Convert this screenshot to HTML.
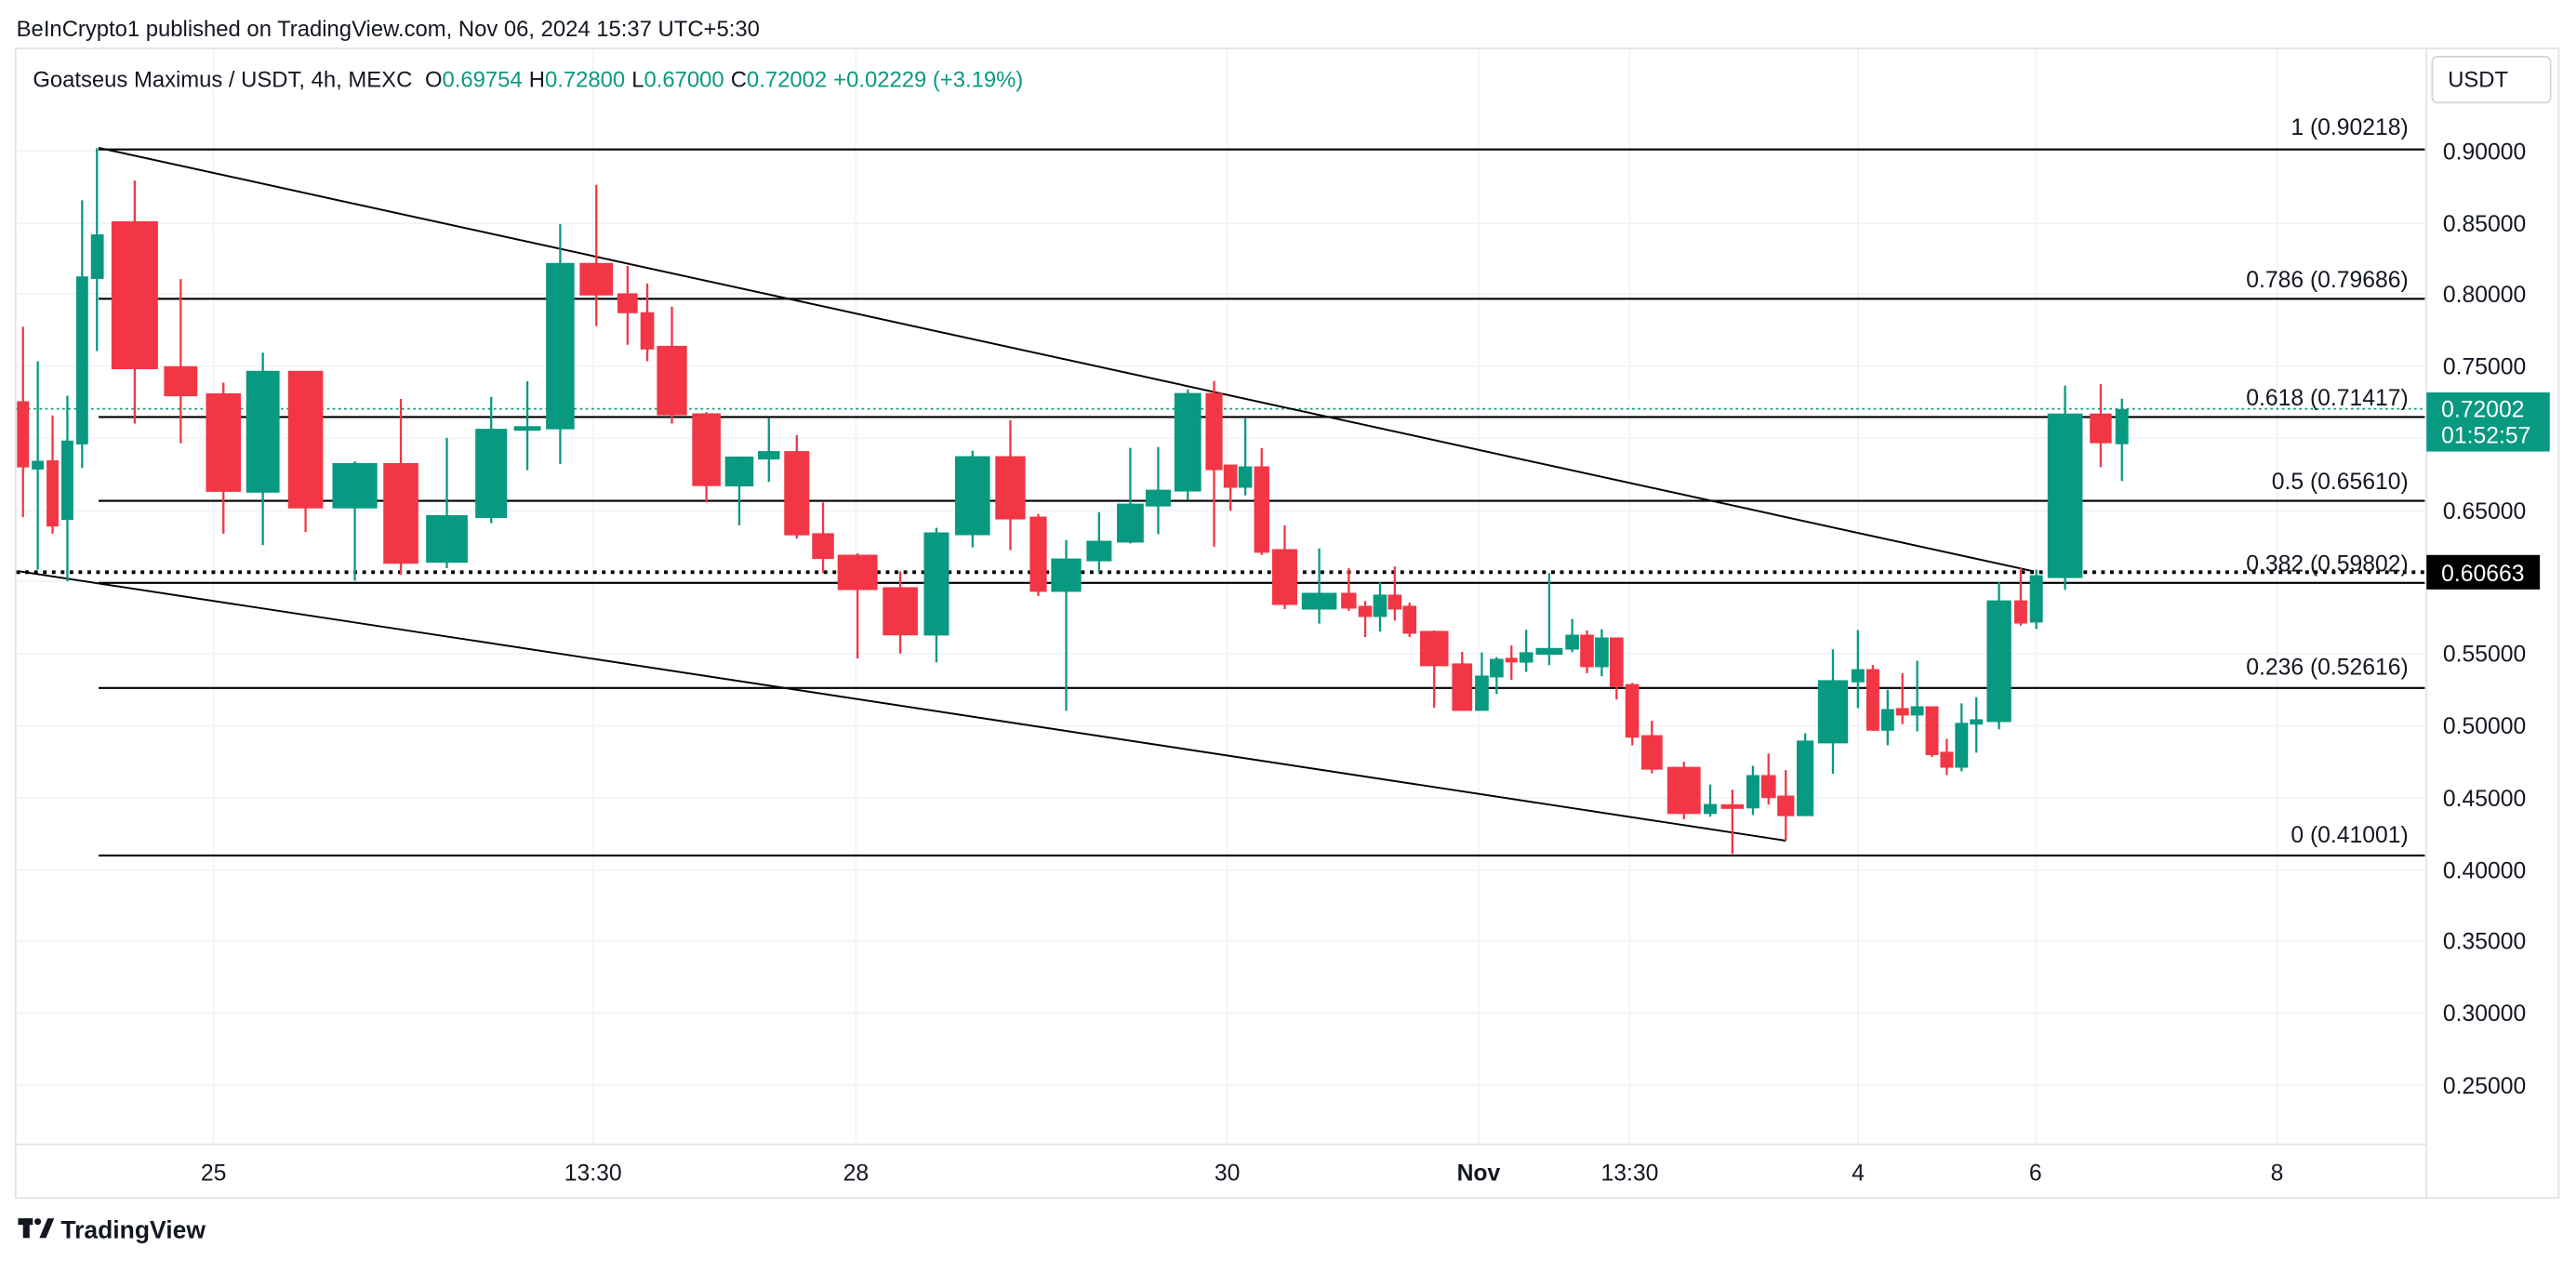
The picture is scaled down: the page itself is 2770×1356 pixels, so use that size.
<!DOCTYPE html>
<html><head><meta charset="utf-8"><style>
html,body{margin:0;padding:0;background:#fff;}
svg{display:block;}
text{font-family:"Liberation Sans",sans-serif;}
</style></head><body>
<svg width="2770" height="1356" viewBox="0 0 1568 768" preserveAspectRatio="none" xmlns="http://www.w3.org/2000/svg">
<rect width="1568" height="768" fill="#fff"/>
<rect x="9.5" y="29.5" width="1548" height="700" fill="none" stroke="#e0e3eb" stroke-width="1"/>
<g stroke="#f0f3fa" stroke-width="1">
<line x1="10" x2="1476" y1="92" y2="92"/><line x1="10" x2="1476" y1="136" y2="136"/><line x1="10" x2="1476" y1="179" y2="179"/><line x1="10" x2="1476" y1="223" y2="223"/><line x1="10" x2="1476" y1="267" y2="267"/><line x1="10" x2="1476" y1="311" y2="311"/><line x1="10" x2="1476" y1="354" y2="354"/><line x1="10" x2="1476" y1="398" y2="398"/><line x1="10" x2="1476" y1="442" y2="442"/><line x1="10" x2="1476" y1="486" y2="486"/><line x1="10" x2="1476" y1="530" y2="530"/><line x1="10" x2="1476" y1="573" y2="573"/><line x1="10" x2="1476" y1="617" y2="617"/><line x1="10" x2="1476" y1="661" y2="661"/>
<line x1="130" x2="130" y1="30" y2="697"/><line x1="361" x2="361" y1="30" y2="697"/><line x1="521" x2="521" y1="30" y2="697"/><line x1="747" x2="747" y1="30" y2="697"/><line x1="900" x2="900" y1="30" y2="697"/><line x1="992" x2="992" y1="30" y2="697"/><line x1="1131" x2="1131" y1="30" y2="697"/><line x1="1239" x2="1239" y1="30" y2="697"/><line x1="1386" x2="1386" y1="30" y2="697"/>
</g>
<line x1="1477" x2="1477" y1="30" y2="730" stroke="#e0e3eb"/>
<line x1="10" x2="1477" y1="697" y2="697" stroke="#e0e3eb"/>
<!-- current price dotted -->
<line x1="10" x2="1476" y1="249" y2="249" stroke="#089981" stroke-width="1" stroke-dasharray="1.5,2"/>
<!-- fib lines -->
<g stroke="#000" stroke-width="1.2">
<line x1="60" x2="1476" y1="91" y2="91"/><line x1="60" x2="1476" y1="182" y2="182"/><line x1="60" x2="1476" y1="254" y2="254"/><line x1="60" x2="1476" y1="305" y2="305"/><line x1="60" x2="1476" y1="355" y2="355"/><line x1="60" x2="1476" y1="419" y2="419"/><line x1="60" x2="1476" y1="521" y2="521"/>
<line x1="60" y1="90" x2="1238" y2="348" stroke-width="1.1"/>
<line x1="12" y1="348" x2="1087" y2="512" stroke-width="1.1"/>
</g>
<line x1="10" x2="1476" y1="348.5" y2="348.5" stroke="#000" stroke-width="2.2" stroke-dasharray="2.2,3.2"/>
<g id="c">
<!-- candles: wick then body -->
</g>
<g stroke-width="1.3">
<g stroke="#F23645" fill="#F23645">
<line x1="14" x2="14" y1="199" y2="315"/><rect x="11" y="245" width="6" height="39"/>
<line x1="32" x2="32" y1="253" y2="325"/><rect x="29" y="281" width="6" height="39"/>
<line x1="82" x2="82" y1="110" y2="258"/><rect x="68.5" y="135.4" width="27" height="88.8"/>
<line x1="110" x2="110" y1="170" y2="270"/><rect x="100.5" y="223.7" width="19" height="17"/>
<line x1="136" x2="136" y1="233" y2="325"/><rect x="126" y="240.2" width="20" height="58.7"/>
<line x1="186" x2="186" y1="226" y2="324"/><rect x="176" y="226.5" width="20" height="82.5"/>
<line x1="244" x2="244" y1="243" y2="350"/><rect x="234" y="282.7" width="20" height="60"/>
<line x1="363" x2="363" y1="112.6" y2="198.6"/><rect x="353.5" y="160.8" width="19" height="18.5"/>
<line x1="382" x2="382" y1="162" y2="210"/><rect x="376.5" y="179.3" width="11" height="10.8"/>
<line x1="394" x2="394" y1="172.7" y2="220"/><rect x="390.5" y="190.8" width="7" height="21.4"/>
<line x1="409" x2="409" y1="186.8" y2="258"/><rect x="400.5" y="211.3" width="17" height="41"/>
<line x1="430" x2="430" y1="251" y2="306"/><rect x="422" y="252.4" width="16" height="43"/>
<line x1="485" x2="485" y1="265" y2="328"/><rect x="478" y="275.4" width="14" height="50"/>
<line x1="501" x2="501" y1="306" y2="349"/><rect x="495" y="325.4" width="12" height="14.4"/>
<line x1="522" x2="522" y1="337" y2="401"/><rect x="510.5" y="338.5" width="23" height="20.2"/>
<line x1="548" x2="548" y1="348" y2="398"/><rect x="538" y="358.3" width="20" height="28"/>
<line x1="615" x2="615" y1="256" y2="335"/><rect x="606.5" y="278.5" width="17" height="37.2"/>
<line x1="632" x2="632" y1="313" y2="363"/><rect x="627.5" y="315.3" width="9" height="44.5"/>
<line x1="739" x2="739" y1="232" y2="333"/><rect x="734.5" y="240" width="9" height="45.7"/>
<line x1="749" x2="749" y1="283" y2="311"/><rect x="745.5" y="283.6" width="7" height="12.8"/>
<line x1="768" x2="768" y1="273" y2="338"/><rect x="764" y="284.7" width="8" height="51.3"/>
<line x1="782" x2="782" y1="320" y2="371"/><rect x="775" y="335.1" width="14" height="32.7"/>
<line x1="821" x2="821" y1="346" y2="372"/><rect x="817" y="361.7" width="8" height="8.3"/>
<line x1="831" x2="831" y1="366" y2="388"/><rect x="827.5" y="369.6" width="7" height="5.5"/>
<line x1="849" x2="849" y1="345" y2="378"/><rect x="845.5" y="362.8" width="7" height="7.8"/>
<line x1="858" x2="858" y1="367" y2="388"/><rect x="854.5" y="369.6" width="7" height="15.7"/>
<line x1="873" x2="873" y1="384" y2="431"/><rect x="865" y="384.9" width="16" height="20.2"/>
<line x1="890" x2="890" y1="397" y2="433"/><rect x="884.5" y="404.7" width="11" height="27.6"/>
<line x1="920" x2="920" y1="393" y2="414"/><rect x="917" y="401.3" width="6" height="1.5"/>
<line x1="966" x2="966" y1="384" y2="410"/><rect x="962.5" y="387.2" width="7" height="18.5"/>
<line x1="984" x2="984" y1="389" y2="426"/><rect x="980.5" y="388.9" width="7" height="28.7"/>
<line x1="993.6" x2="993.6" y1="416" y2="454"/><rect x="990" y="417.3" width="7" height="31.3"/>
<line x1="1005.5" x2="1005.5" y1="439" y2="471"/><rect x="999.7" y="448.4" width="11.6" height="19.7"/>
<line x1="1025" x2="1025" y1="464" y2="499"/><rect x="1015.5" y="467.7" width="19" height="27.4"/>
<line x1="1054.5" x2="1054.5" y1="481" y2="520"/><rect x="1048.2" y="490.5" width="12.6" height="1.5"/>
<line x1="1076.5" x2="1076.5" y1="459" y2="490"/><rect x="1072.7" y="472.7" width="7.6" height="12.7"/>
<line x1="1087" x2="1087" y1="469" y2="512"/><rect x="1082.5" y="485.2" width="9" height="11.2"/>
<line x1="1140" x2="1140" y1="405" y2="445"/><rect x="1136.7" y="408.2" width="6.6" height="36.2"/>
<line x1="1158" x2="1158" y1="410" y2="441"/><rect x="1154.7" y="431.9" width="6.6" height="3.2"/>
<line x1="1176" x2="1176" y1="431" y2="461"/><rect x="1172.7" y="430.8" width="6.6" height="28.4"/>
<line x1="1185" x2="1185" y1="450" y2="472"/><rect x="1181.7" y="458.5" width="6.6" height="8.4"/>
<line x1="1230" x2="1230" y1="346" y2="381"/><rect x="1226.7" y="366.3" width="6.6" height="12.8"/>
<line x1="1278.7" x2="1278.7" y1="234" y2="284.5"/><rect x="1272.7" y="252.5" width="12" height="16.8"/>
</g>
<g stroke="#089981" fill="#089981">
<line x1="23" x2="23" y1="220" y2="347"/><rect x="20" y="281.3" width="6" height="4"/>
<line x1="41" x2="41" y1="241" y2="354"/><rect x="38" y="269" width="6" height="47"/>
<line x1="50" x2="50" y1="122" y2="285"/><rect x="47" y="169" width="6" height="101"/>
<line x1="59" x2="59" y1="90.3" y2="213.8"/><rect x="56" y="143.4" width="6.5" height="25.8"/>
<line x1="160" x2="160" y1="214.8" y2="332"/><rect x="150.5" y="226.5" width="19" height="72.9"/>
<line x1="216" x2="216" y1="281" y2="353.6"/><rect x="203" y="282.7" width="26" height="26.3"/>
<line x1="272" x2="272" y1="266.7" y2="346"/><rect x="260" y="314.4" width="24" height="27.7"/>
<line x1="299" x2="299" y1="241.8" y2="318.6"/><rect x="290" y="261.8" width="18" height="53"/>
<line x1="321" x2="321" y1="232.2" y2="286.4"/><rect x="313.5" y="260.2" width="15" height="1.5"/>
<line x1="341" x2="341" y1="136.6" y2="282.7"/><rect x="333" y="160.8" width="16" height="100"/>
<line x1="450" x2="450" y1="278" y2="320"/><rect x="442" y="278.7" width="16" height="16.9"/>
<line x1="468" x2="468" y1="254.7" y2="293.5"/><rect x="462" y="275.4" width="12" height="3.8"/>
<line x1="570" x2="570" y1="321.5" y2="403.4"/><rect x="563" y="324.9" width="14" height="61.5"/>
<line x1="592" x2="592" y1="274.5" y2="333.4"/><rect x="582" y="278.5" width="20" height="46.8"/>
<line x1="649" x2="649" y1="328.9" y2="432.9"/><rect x="640.5" y="340.8" width="17" height="19"/>
<line x1="669" x2="669" y1="311.9" y2="348.5"/><rect x="662" y="330" width="14" height="11.2"/>
<line x1="688" x2="688" y1="272.8" y2="331"/><rect x="680.5" y="307.4" width="15" height="22.4"/>
<line x1="705" x2="705" y1="272.3" y2="325.3"/><rect x="698" y="298.9" width="14" height="8.9"/>
<line x1="723" x2="723" y1="237.2" y2="304.4"/><rect x="715.5" y="240" width="15" height="58.7"/>
<line x1="758" x2="758" y1="254.9" y2="301.7"/><rect x="754.5" y="284.7" width="7" height="11.7"/>
<line x1="803" x2="803" y1="334" y2="379.8"/><rect x="793" y="361.7" width="20" height="8.9"/>
<line x1="840" x2="840" y1="354.4" y2="384.7"/><rect x="836.5" y="362.8" width="7" height="12.3"/>
<line x1="902" x2="902" y1="397.4" y2="432.3"/><rect x="898.5" y="412.1" width="7" height="20.2"/>
<line x1="911" x2="911" y1="400.2" y2="422.7"/><rect x="907.5" y="401.9" width="7" height="10"/>
<line x1="929" x2="929" y1="383.6" y2="409.1"/><rect x="925.5" y="397.9" width="7" height="5"/>
<line x1="943" x2="943" y1="349" y2="405.1"/><rect x="935.5" y="395.3" width="15" height="2.8"/>
<line x1="957" x2="957" y1="377" y2="397.2"/><rect x="953.5" y="387.2" width="7" height="7.8"/>
<line x1="975" x2="975" y1="383.2" y2="411.9"/><rect x="971.5" y="388.9" width="7" height="16.8"/>
<line x1="1041" x2="1041" y1="477.8" y2="497.4"/><rect x="1037.7" y="490.3" width="6.6" height="4.8"/>
<line x1="1067" x2="1067" y1="466.4" y2="496.4"/><rect x="1063.7" y="472.7" width="6.6" height="19"/>
<line x1="1098.8" x2="1098.8" y1="446.6" y2="496.4"/><rect x="1094.3" y="451.7" width="9" height="44.7"/>
<line x1="1115.7" x2="1115.7" y1="395.5" y2="471.3"/><rect x="1107.2" y="414.9" width="17" height="37.2"/>
<line x1="1130.9" x2="1130.9" y1="383.7" y2="431.3"/><rect x="1127.6" y="408.2" width="6.6" height="6.7"/>
<line x1="1149" x2="1149" y1="420.1" y2="453.9"/><rect x="1145.7" y="432.5" width="6.6" height="11.9"/>
<line x1="1167" x2="1167" y1="402.5" y2="445.4"/><rect x="1163.7" y="430.8" width="6.6" height="4.3"/>
<line x1="1194" x2="1194" y1="428.4" y2="469.7"/><rect x="1190.7" y="440.9" width="6.6" height="26"/>
<line x1="1203" x2="1203" y1="424.6" y2="458.4"/><rect x="1199.7" y="438.7" width="6.6" height="1.9"/>
<line x1="1216.8" x2="1216.8" y1="354.4" y2="444.2"/><rect x="1210" y="366.3" width="13.6" height="72.8"/>
<line x1="1239.5" x2="1239.5" y1="346.9" y2="383.1"/><rect x="1236.2" y="351" width="6.6" height="27.5"/>
<line x1="1257" x2="1257" y1="234.9" y2="359.3"/><rect x="1247" y="252.5" width="20" height="98.9"/>
<line x1="1291.6" x2="1291.6" y1="242.8" y2="293"/><rect x="1288.3" y="249.7" width="6.6" height="20.2"/>
</g>
</g>
<!-- fib labels -->
<g font-size="14" fill="#131722" text-anchor="end">
<text x="1466" y="82">1 (0.90218)</text>
<text x="1466" y="175">0.786 (0.79686)</text>
<text x="1466" y="247">0.618 (0.71417)</text>
<text x="1466" y="298">0.5 (0.65610)</text>
<text x="1466" y="348">0.382 (0.59802)</text>
<text x="1466" y="411">0.236 (0.52616)</text>
<text x="1466" y="513">0 (0.41001)</text>
</g>
<!-- price axis -->
<g font-size="14" fill="#131722">
<text x="1487" y="97">0.90000</text><text x="1487" y="141">0.85000</text><text x="1487" y="184">0.80000</text><text x="1487" y="228">0.75000</text><text x="1487" y="316">0.65000</text><text x="1487" y="403">0.55000</text><text x="1487" y="447">0.50000</text><text x="1487" y="491">0.45000</text><text x="1487" y="535">0.40000</text><text x="1487" y="578">0.35000</text><text x="1487" y="622">0.30000</text><text x="1487" y="666">0.25000</text>
</g>
<rect x="1480.5" y="34.5" width="72" height="28" rx="3" fill="#fff" stroke="#d1d4dc"/>
<text x="1490" y="53" font-size="13.5" fill="#131722">USDT</text>
<rect x="1477" y="239" width="75" height="36" fill="#089981"/>
<text x="1486" y="254" font-size="14" fill="#fff">0.72002</text>
<text x="1486" y="270" font-size="14" fill="#fff">01:52:57</text>
<rect x="1477" y="338" width="69" height="21" fill="#000"/>
<text x="1486" y="354" font-size="14" fill="#fff">0.60663</text>
<!-- time axis -->
<g font-size="14" fill="#131722" text-anchor="middle">
<text x="130" y="719">25</text><text x="361" y="719">13:30</text><text x="521" y="719">28</text><text x="747" y="719">30</text><text x="900" y="719" font-weight="bold">Nov</text><text x="992" y="719">13:30</text><text x="1131" y="719">4</text><text x="1239" y="719">6</text><text x="1386" y="719">8</text>
</g>
<!-- header -->
<text x="10" y="22" font-size="13.5" fill="#131722">BeInCrypto1 published on TradingView.com, Nov 06, 2024 15:37 UTC+5:30</text>
<text x="20" y="53" font-size="13.5" fill="#131722">Goatseus Maximus / USDT, 4h, MEXC <tspan dx="4">O</tspan><tspan fill="#089981">0.69754</tspan><tspan dx="4">H</tspan><tspan fill="#089981">0.72800</tspan><tspan dx="4">L</tspan><tspan fill="#089981">0.67000</tspan><tspan dx="4">C</tspan><tspan fill="#089981">0.72002</tspan><tspan dx="4" fill="#089981">+0.02229 (+3.19%)</tspan></text>
<!-- logo -->
<g fill="#131722">
<rect x="11" y="742" width="9" height="4"/><rect x="14" y="742" width="4" height="12"/>
<circle cx="23" cy="744" r="2"/><path d="M24 754 L29 742 L33 742 L28 754 Z"/>
</g>
<text x="37" y="754" font-size="15" font-weight="bold" fill="#131722">TradingView</text>
</svg>
</body></html>
